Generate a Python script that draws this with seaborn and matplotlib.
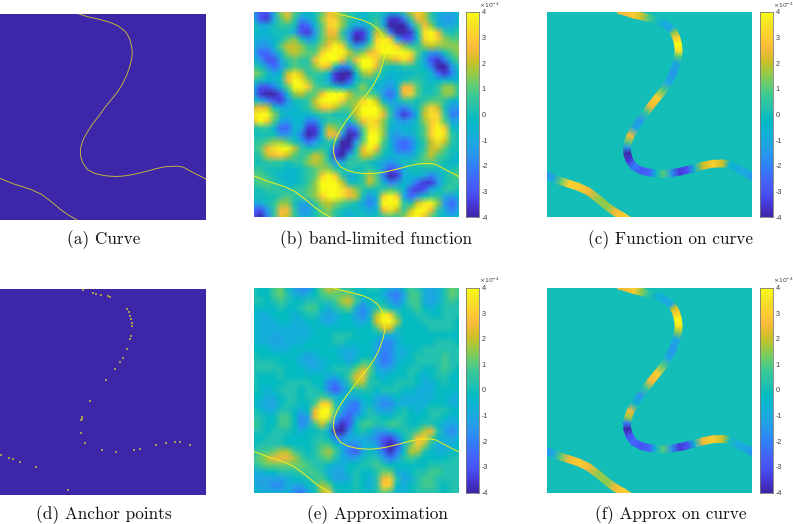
#\\Six panels: curve, band-limited function and its approximation
import numpy as np
import pandas as pd
import matplotlib
matplotlib.use('Agg')
import matplotlib.pyplot as plt
from matplotlib.colors import LinearSegmentedColormap
import seaborn as sns

#\\Curve, in zoomed pixels of that panel (0-618 wide, 40-660 tall)
main_x = [215, 238, 262, 285, 305, 330, 355, 375, 383, 390, 395, 397, 395, 390, 380, 365, 350, 332, 312, 298, 280, 264,
          251, 244, 241, 242, 248, 262, 285, 310, 328, 352, 375, 400, 425, 445, 470, 500, 530, 550, 575, 597, 618, 640]
main_y = [34, 40, 48, 53, 58, 65, 76, 92, 103, 118, 138, 158, 175, 195, 225, 255, 278, 300, 325, 345, 368, 392,
          415, 435, 450, 468, 488, 508, 520, 526, 528, 529, 527, 523, 517, 512, 505, 499, 498, 501, 515, 526, 537, 549]
lower_x = [-20, 0, 20, 40, 65, 95, 125, 155, 185, 205, 228, 250]
lower_y = [527, 535, 543, 551, 559, 569, 583, 606, 631, 645, 658, 672]

#\\Function values along the curve, x 1e-4
main_c = [2.5, 2.5, 3, 2, 1, 0, -1, -1, 1.5, 3, 4, 3.5, 1, -1, -1.5, -1, 1, 3, 2.5, 0.5, -1.5, -1,
          2.5, 1, -1.5, -4, -3.5, -2, -3, -2.5, -0.5, 1, -1.5, -3.5, -3, -0.5, 2, 3, 2, -0.5, -1, -1, -1.5, -1.5]
lower_c = [-1.5, -1.5, -1, 1, 3, 3, 2.5, 1.5, 1.5, 2.5, 3, 3]
main_f = [2.5, 2.5, 3, 1.5, 0.5, -0.5, -1, -1, 2, 3, 4, 3.5, 1.5, -1, -1.5, -1, 1, 3, 2.5, 0.5, -1.5, -0.5,
          2.5, 1.5, -2, -4, -3, -2.5, -3, -2.5, -0.5, 1, -1.5, -3.5, -3, -0.5, 2.5, 3, 2, 0, -1, -1, -1.5, -1.5]
lower_f = [-1.5, -1.5, -1, 1, 2.5, 3, 2.5, 1.5, 1.5, 2.5, 3, 3]

#\\Anchor points, in zoomed pixels (0-618 wide, 28-645 tall)
anchor_x = [248, 279, 288, 302, 323, 331, 381, 386, 390, 393, 396, 396, 393, 391, 381, 369, 360, 345, 319, 270,
            246, 245, 243, 242, 256, 307, 347, 401, 420, 468, 499, 526, 540, 569, 4, 27, 39, 59, 107, 204]
anchor_y = [31, 41, 42, 46, 50, 53, 89, 98, 108, 118, 130, 138, 170, 178, 207, 234, 248, 267, 301, 364,
            412, 417, 421, 458, 489, 510, 515, 510, 508, 496, 489, 487, 487, 496, 524, 534, 537, 545, 561, 630]

#\\Band-limited function on a 31 x 31 grid, x 1e-4
band_grid = [
    [-1.5, -3, -3, -1, 1.5, 2.5, 1, 0, -0.5, 0, 1, 2.5, 2, 1, 0.5, 0, -0.5, 0, 0, 0, -0.5, -0.5, 0.5, 2, 3, 2, 0.5, -0.5, -1, -1, -0.5],
    [-1, -3, -3.5, -1, 1, 2, 0.5, -1.5, -1, 0, 1.5, 3, 3, 1.5, 0.5, 0, -0.5, 0, 0.5, -1, -3.5, -3.5, -2, 0.5, 2.5, 2, 0.5, -1, -1.5, -1.5, -0.5],
    [0, -1, -1, 0, 0.5, 0.5, 0, -3, -2.5, -0.5, 1, 3, 3.5, 1.5, 0, -1, -1, 0, 1, -1, -4, -4.5, -4, -1.5, 1, 2.5, 1.5, -0.5, -1, -1, 0],
    [0, -0.5, -0.5, 0, 0, 0, -1, -3, -3.5, -1.5, 1, 2.5, 2.5, 0.5, -1.5, -3.5, -3.5, -1, 2, 1.5, -2, -4.5, -4.5, -3.5, 0, 3.5, 4, 2.5, 0.5, 0, 0.5],
    [-0.5, -1, -1, -0.5, 0, 1, 1.5, 0, -1.5, -0.5, 1, 2, 2, 1, -1.5, -4, -3.5, -0.5, 3, 4.5, 3, -1, -3, -3, -0.5, 3, 4, 3, 1.5, 1, 1],
    [-1, -1.5, -1.5, -0.5, 1, 2, 2, 1.5, 0.5, 0.5, 1.5, 2.5, 4, 3, 0.5, -1.5, -1, 1, 3.5, 5, 5, 3, 1.5, 0.5, 0.5, 1.5, 2, 1.5, 1.5, 1.5, 1.5],
    [-1, -2.5, -2.5, -1.5, 0, 1.5, 2, 1.5, 1, 1, 3, 4.5, 5, 4, 2, 1, 1.5, 2.5, 3, 4, 4.5, 4, 4.5, 3.5, 1, -0.5, -1.5, -1.5, 0, 1, 1.5],
    [-0.5, -1.5, -3, -3, -1, 0.5, 1, 0.5, 0.5, 2.5, 5, 5, 4, 2.5, 1, 2.5, 4.5, 5, 3, 1.5, 2, 2.5, 3.5, 2.5, 0.5, -1, -3, -3.5, -2, 0, 1],
    [0.5, 0, -1.5, -2.5, -1.5, 0, 1, 0.5, 0.5, 1.5, 3, 2.5, 0, -2, -1.5, 1, 4, 4.5, 2.5, 0.5, 0, 0, 0.5, 0.5, 0, -0.5, -2, -4, -4, -1.5, 0],
    [1.5, 1, 0, -1, -0.5, 2, 3.5, 2, 0.5, 0.5, 0.5, -0.5, -3.5, -4.5, -4, -0.5, 1.5, 2, 1, 0, -0.5, -0.5, -0.5, -0.5, 0, 0, -0.5, -2.5, -3.5, -2, -0.5],
    [0.5, 0, -0.5, -0.5, 0, 2.5, 4.5, 3.5, 1.5, 0.5, 0, -1, -3.5, -4, -3, -0.5, 0.5, 0.5, 0, -0.5, -1, -0.5, 0, 0.5, 0.5, 0, -0.5, -0.5, -0.5, -0.5, -0.5],
    [-1, -3, -3, -2, -0.5, 1, 4, 5, 3, 1, 0.5, 0.5, 0, -1, -0.5, 0.5, 1.5, 0.5, -0.5, -1, -1.5, -0.5, 2.5, 2.5, 1, 0, 0, 0.5, 1.5, 1.5, 0.5],
    [-1.5, -3.5, -4, -4, -3, -0.5, 1.5, 2, 1, 1, 2.5, 4, 5, 4, 2, 1, 1, 1, 0.5, -1.5, -2.5, -1, 2.5, 3, 1, 0, 0, 0.5, 1.5, 1.5, 0.5],
    [0, -1, -2, -3, -3.5, -1.5, 0, 0, 0.5, 2, 4, 5, 4.5, 3, 1.5, 1.5, 3, 4, 2, -0.5, -1.5, -0.5, 0.5, 0.5, 0, 0.5, 1, 1, 0.5, -0.5, -0.5],
    [2, 2.5, 2, 0, -1, -1, -0.5, 0, 0.5, 1.5, 2.5, 3, 2, 1, 1, 2, 4.5, 5, 4.5, 1.5, 0, -1.5, -2, -1, 0, 1.5, 3, 2, 0, -1.5, -1.5],
    [3.5, 5, 4, 1.5, 0, -0.5, -0.5, -0.5, -0.5, 0, 0.5, 0.5, 0, 0, 0.5, 2, 4.5, 5, 4, 2.5, 0.5, -2, -3.5, -2.5, -0.5, 2, 3.5, 3, 0.5, -2, -2],
    [2.5, 4, 3, 1, -1, -1.5, -0.5, -0.5, -2, -2, -0.5, 0.5, 0.5, 0.5, -0.5, 1, 2.5, 3.5, 3, 1.5, 0, -1, -1.5, -1, 0, 1.5, 3, 3.5, 1, -1, -1],
    [0, 0.5, 0.5, -0.5, -2.5, -2.5, -0.5, -1, -3.5, -3.5, -1, 2, 1.5, 0.5, -3, -2, 1, 3.5, 3.5, 1.5, -0.5, -1, -0.5, -0.5, 0, 1, 3, 4.5, 3, 0, -0.5],
    [0, 0, 0, 0, -1.5, -1.5, -0.5, -2, -4, -3.5, -0.5, 2.5, 2.5, -1.5, -4.5, -3.5, 0.5, 4.5, 4.5, 1.5, -1, -1.5, -1, -1, 0, 1, 3, 5, 3.5, 0.5, 0],
    [0.5, 0.5, 1, 1.5, 1.5, 1, 0, -1, -2.5, -1.5, -0.5, 0.5, 0, -4, -4.5, -1.5, 1, 4.5, 4, 1, -0.5, -2, -2.5, -2, -0.5, 0.5, 2, 3.5, 2, 0.5, 0],
    [0.5, 1, 2.5, 3.5, 4.5, 4, 2, 0.5, 0, 0, 0.5, 0, -3, -4.5, -3.5, 0, 2.5, 4, 2.5, 0.5, -0.5, -2, -2.5, -2, -0.5, 0.5, 2, 2, 1, 0, 0],
    [0, 0.5, 2, 2.5, 3, 2, 1, 0.5, 1, 2, 1.5, 0, -3.5, -4, -1, 0.5, 2, 2, 1, 0, -0.5, -1, -1, -1, 0, 1, 2, 1, 0.5, 0, -0.5],
    [0, 0, 0.5, 0.5, 0.5, 0, 0.5, 0.5, 1.5, 2, 1.5, 0.5, -1.5, -1, 0.5, 0.5, 0.5, 0, -0.5, -1, -1.5, -1, 0, 0, 0.5, 1, 1, 0.5, 0, -0.5, -0.5],
    [0.5, 0.5, 0, 0, 0, -0.5, -0.5, 0, 0.5, 1, 1.5, 1.5, 0.5, 0, 0.5, 0, 0, 0.5, 0, -1.5, -3, -2.5, -1, 0, 0, 0, 0, 0, 0, 0, 0.5],
    [1, 1, 0.5, 0, -0.5, -0.5, -0.5, 0, 0.5, 1, 3, 4, 3, 0.5, -1, -0.5, 0.5, 2, 1, -2, -4, -3.5, -1, -0.5, -0.5, -1, -2, -1, 0, 0.5, 1],
    [0.5, 1, 1, 0.5, 0, -0.5, -0.5, 0, 0.5, 1.5, 4, 5, 4.5, 2, 0, 0, 0.5, 2, 1, -0.5, -2, -1.5, -0.5, -1, -2.5, -3.5, -3.5, -1.5, 0, 0.5, 0.5],
    [0, 0, 0.5, 0.5, 0.5, 0, 0.5, 0.5, 1, 1.5, 4, 5, 5, 3.5, 2.5, 1.5, 0.5, 0, 0, 0.5, 1, 0.5, -0.5, -3, -3.5, -3, -1, -0.5, 0.5, 0.5, 0],
    [0, 0, 0, 0, 0.5, 1, 0.5, 0.5, 1, 1.5, 3, 4.5, 4, 3.5, 2.5, 2, 0, -1.5, -0.5, 3, 4.5, 3, -1, -2.5, -1.5, 0, 0.5, 0.5, -1, -1.5, -0.5],
    [-1, -1, 0, 0.5, 1.5, 1.5, 0, -1, -1, 0.5, 1.5, 2, 1.5, 1, 0.5, 0, -1, -2, -1, 4, 5, 4.5, 0.5, 0, 2, 3.5, 4, 1.5, -1.5, -2.5, -1.5],
    [-2.5, -3, -1.5, 0.5, 2.5, 2.5, 0.5, -1.5, -1.5, 0, 1, 1.5, 0.5, 0, -0.5, 0, -0.5, -1, -0.5, 2.5, 3.5, 2, 0.5, 2, 4, 4.5, 2.5, 0.5, -1, -2, -1],
    [-3, -4, -2, 0.5, 2.5, 2, 0.5, -1, -1, 0, 1, 1, 0.5, -0.5, -1, -0.5, 0, -0.5, 0, 0.5, 1, 0.5, 1.5, 3.5, 4, 2.5, 1, 0, -0.5, -1, -0.5],
]

#\\Approximation on the same grid, x 1e-4
approx_grid = [
    [0.2, -0.2, -0.2, 0.8, 1.2, -0.2, -1.2, -1.8, -1.8, -0.2, 1.2, 2.2, 1.8, 0.2, 0.2, -0.2, -0.2, 0.2, 0.2, -0.2, -0.8, -1.2, -0.2, 0.8, 0.2, -0.8, -1.2, -0.8, 0.2, 1.2, 0.8],
    [0.2, -0.2, -0.2, 0.8, 1.2, 0.2, -0.8, -1.2, -0.8, -0.2, 0.8, 1.2, 1.2, 1.2, 1.2, 0.2, -0.2, -0.2, -0.2, -0.8, -1.8, -2.2, -1.2, 0.8, 0.8, -0.8, -1.2, -0.8, 0.2, 1.2, 0.8],
    [0.2, 0.2, -0.2, 0.2, 0.8, 0.2, -0.2, -0.2, 0.2, 0.2, 0.2, 0.2, 0.8, 1.8, 2.2, 0.8, -0.8, -0.2, 0.2, -0.2, -1.2, -1.8, -0.8, 0.8, 0.8, -0.8, -1.2, -0.8, 0.2, 0.8, 0.2],
    [-0.2, -0.2, -0.2, -0.2, 0.2, -0.2, -0.2, 0.2, 0.8, 0.8, -0.2, -0.8, 0.2, 0.8, 1.2, -0.8, -1.8, -0.8, 0.2, 0.8, -0.2, -0.8, -0.2, 0.2, 0.8, -0.2, -0.8, -0.2, 0.2, 0.2, 0.2],
    [-0.2, -0.8, -0.8, -0.2, -0.2, -0.2, -0.8, -0.2, 0.2, 0.2, -0.8, -1.2, -0.8, -0.2, -0.2, -1.2, -1.8, -0.8, 1.8, 4, 3.2, 0.8, -0.2, -0.2, 0.2, 0.2, -0.2, -0.2, 0.2, 0.2, 0.2],
    [-0.2, -0.8, -0.8, -0.8, -0.2, -0.2, -0.8, -0.8, -0.2, -0.2, -0.8, -1.2, -0.8, -0.2, -0.2, -0.8, -1.2, -0.2, 2.2, 5, 5, 1.8, -0.2, -0.2, -0.2, 0.2, 0.2, 0.2, 0.2, 0.2, -0.2],
    [-0.2, -0.8, -0.8, -0.8, -0.8, -0.8, -0.8, -0.8, -0.8, -0.2, -0.2, -0.2, -0.2, -0.2, -0.2, -0.2, -0.2, -0.2, 0.8, 2.2, 2.2, 0.2, -0.2, -0.2, -0.2, -0.2, 0.2, 0.2, 0.2, 0.2, -0.2],
    [-0.2, -0.8, -0.8, -1.2, -0.8, -0.8, -0.8, -0.8, -0.8, -0.2, -0.2, -0.2, 0.2, 0.2, 0.2, -0.2, -0.2, -0.2, -0.2, -0.8, -0.8, -0.8, -0.2, -0.2, -0.2, -0.2, -0.2, -0.2, -0.2, -0.2, -0.2],
    [-0.2, -0.8, -0.8, -1.2, -1.2, -0.8, -0.8, -0.8, -0.2, -0.2, -0.2, -0.2, 0.2, 0.2, -0.2, -0.2, -0.2, -0.2, -0.8, -1.8, -1.8, -0.8, -0.2, -0.2, -0.2, -0.2, -0.2, 0.2, 0.2, 0.2, -0.2],
    [-0.2, -0.2, -0.2, -0.8, -0.8, -0.8, -0.2, -0.2, -0.2, -0.2, -0.2, -0.2, -0.2, -0.8, -0.8, -0.8, -0.2, -0.2, -1.2, -1.8, -1.8, -0.8, -0.8, -0.2, -0.2, 0.2, 0.2, 0.2, 0.2, 0.2, 0.2],
    [0.2, -0.2, -0.2, -0.2, -0.2, -0.2, -0.2, -0.8, -1.2, -0.8, -0.2, -0.2, -0.2, -0.8, -1.2, -0.8, -0.2, -0.2, -1.2, -2.2, -1.8, -0.8, -0.8, -0.2, 0.2, 0.2, 0.2, 0.2, 0.8, 0.2, 0.2],
    [0.2, 0.2, 0.2, 0.2, -0.2, -0.2, -0.2, -0.8, -1.2, -1.2, -0.8, -0.2, -0.2, -0.2, -0.8, -0.2, 0.8, 0.8, -1.2, -2.2, -1.8, -0.8, -0.2, -0.2, 0.2, 0.2, 0.2, 0.2, 0.8, 0.2, 0.2],
    [0.2, 0.2, 0.2, 0.2, 0.2, -0.2, -0.2, -0.2, -0.8, -0.8, -0.8, -0.2, 0.2, 0.2, 0.2, 1.2, 2.2, 1.2, -0.8, -1.2, -1.2, -0.2, -0.2, 0.2, 0.2, -0.2, -0.2, 0.2, 0.8, 0.2, -0.2],
    [0.2, -0.2, -0.2, -0.2, 0.2, -0.2, -0.2, -0.2, -0.2, -0.2, -0.2, -0.8, -0.8, -0.2, 0.8, 2.2, 2.8, 0.8, -0.2, -0.8, -0.2, -0.2, -0.2, 0.2, -0.2, -0.8, -0.2, 0.2, 0.2, -0.2, -0.2],
    [0.2, -0.2, -0.2, -0.2, -0.2, 0.2, 0.2, 0.2, 0.2, -0.2, -0.2, -1.8, -2.2, -1.2, 0.2, 1.8, 1.8, 0.2, 0.2, -0.2, -0.2, 0.2, 0.2, 0.2, -0.2, -0.8, -0.8, -0.2, 0.2, -0.2, -0.2],
    [0.2, -0.2, -0.8, -0.2, 0.2, 0.2, 0.2, -0.2, 0.2, 0.2, -0.2, -1.8, -2.8, -1.8, -0.2, 0.2, 0.2, 0.2, -0.2, 0.2, 0.2, 0.2, -0.2, -0.2, -0.8, -0.8, -0.8, -0.2, -0.2, -0.2, -0.2],
    [-0.2, -0.2, -0.8, -0.8, -0.2, 0.2, 0.2, -0.2, 0.2, 0.2, 0.8, 0.2, -0.8, -0.2, -0.8, -0.8, -0.2, -0.2, -0.8, -1.2, -0.8, -0.2, -0.8, -0.8, -0.8, -0.8, -0.8, -0.2, -0.2, -0.8, -0.8],
    [-0.2, -0.8, -1.2, -1.2, -0.2, 0.2, 0.2, -0.2, -0.2, 0.8, 3, 3, 0.2, -0.8, -1.8, -2.2, -0.8, -0.2, -1.2, -1.8, -1.8, -0.8, -0.8, -0.8, -0.8, -0.8, -0.2, -0.2, -0.2, -0.8, -0.8],
    [0.2, -0.2, -0.8, -0.8, 0.2, 0.2, -0.2, -0.8, -0.2, 2.5, 5, 4.5, 0.8, -1.2, -2.2, -2.2, -0.8, 0.2, -0.8, -1.2, -1.2, -0.2, 0.2, -0.2, -0.8, -0.2, 0.2, 0.2, 0.2, -0.2, -0.2],
    [0.2, 0.2, -0.2, -0.2, 0.8, 0.8, -0.2, -1.8, -1.2, 2.5, 5, 3.5, -0.8, -2.2, -2.8, -1.2, -0.2, 0.2, 0.2, -0.2, -0.2, 0.2, 0.2, -0.2, -0.2, -0.2, 0.2, 0.2, -0.2, -0.8, -0.2],
    [0.8, 0.2, -0.2, -0.2, 0.8, 0.8, -0.2, -1.8, -1.2, 0.8, 2.2, 0.8, -2.2, -3.8, -2.8, -0.2, 0.8, 0.8, 0.2, 0.2, 0.8, 0.8, 0.2, -0.2, -0.2, 0.2, 0.2, -0.2, -0.8, -1.2, -0.8],
    [0.2, 0.2, -0.2, 0.2, 0.2, 0.2, -0.2, -0.8, -0.2, -0.2, 0.2, -0.8, -3.8, -4.2, -1.8, -0.2, 0.2, -0.2, -1.2, -1.2, -0.8, -0.2, 0.2, 0.2, 0.8, 1.8, 2.5, 0.2, -1.2, -1.8, -1.2],
    [-0.2, -0.2, 0.2, 0.2, 0.2, -0.2, -0.2, -0.2, -0.2, 0.2, 0.2, -0.2, -2.2, -1.8, -0.8, -0.8, -0.8, -1.2, -1.8, -2.8, -3.2, -1.8, -0.2, 0.8, 2.5, 3, 1.2, -0.2, -0.8, -1.2, -0.8],
    [-0.2, 0.2, 0.2, 0.2, 0.2, -0.2, -0.2, -0.2, -0.2, 0.2, 0.8, 0.8, -0.2, -1.2, -1.8, -1.8, -0.8, -0.8, -1.2, -3.2, -4.5, -3.2, -0.8, 1.2, 3, 1.8, 0.2, -0.8, -0.8, -0.8, -0.2],
    [0.2, 0.8, 0.8, 1.2, 1.8, 1.8, 0.8, 0.2, -0.2, 0.2, 1.2, 1.8, 0.8, -0.8, -2.2, -2.8, -1.2, -0.2, -0.8, -2.2, -3.8, -2.2, -0.2, 1.8, 1.8, 0.2, -0.2, -0.8, -0.8, -0.2, -0.2],
    [0.8, 1.2, 1.8, 2.5, 2.5, 2.5, 1.8, 0.8, 0.2, 0.2, 0.8, 1.2, 0.2, -0.8, -1.2, -1.2, -0.2, 0.2, 0.2, -1.2, -2.2, -1.2, 0.2, 0.8, 0.2, -0.2, -0.2, -0.2, -0.2, 0.2, 0.2],
    [0.2, 0.8, 1.2, 1.2, 1.2, 1.2, 1.2, 1.2, 0.8, 0.2, 0.2, -0.2, -0.8, -0.8, -0.2, -0.2, 0.2, 0.2, 0.8, 0.2, -0.2, -0.2, -0.2, -0.2, -0.2, -0.2, 0.2, 0.2, 0.2, 0.2, 0.2],
    [-0.8, -0.8, -0.2, -0.2, 0.2, 0.2, 0.2, 0.8, 0.8, 0.8, 0.2, -0.8, -1.2, -1.2, -0.2, 0.2, -0.2, -0.2, 0.2, 1.2, 1.2, -0.8, -0.8, -0.2, 0.2, 0.2, 0.8, 0.8, 0.2, 0.2, 0.2],
    [-1.2, -1.2, -1.2, -1.2, -1.2, -0.8, -0.2, -0.2, 0.2, 0.8, 0.8, -0.2, -1.2, -1.2, -0.8, 0.2, -0.2, -0.8, 0.2, 2.5, 3, 0.2, -1.2, -0.8, 0.2, 0.8, 0.8, 0.2, 0.2, 0.2, 0.2],
    [-0.8, -1.2, -1.2, -1.8, -1.8, -0.8, -1.2, -1.2, -0.2, 0.2, 1.8, 1.2, -0.2, -0.2, -0.2, 0.2, -0.2, -0.8, 0.2, 3, 3, -0.2, -0.8, -0.2, 0.2, 0.8, 0.8, 0.2, -0.2, 0.2, 0.2],
    [-0.2, -0.8, -0.8, -0.8, -0.8, -0.8, -1.8, -2.2, -1.2, -0.2, 1.8, 2.5, 0.2, -0.2, -0.2, 0.2, -0.2, -0.2, 0.2, 1.2, 0.8, -0.8, -0.8, -0.2, 0.2, 0.2, 0.2, 0.2, -0.2, 0.2, 0.2],
]

cbar_ticks = [-4, -3, -2, -1, 0, 1, 2, 3, 4]
captions = ['(a) Curve', '(b) band-limited function', '(c) Function on curve',
            '(d) Anchor points', '(e) Approximation', '(f) Approx on curve']

parula = LinearSegmentedColormap.from_list('parula', [
    (0.2422, 0.1504, 0.6603), (0.2706, 0.2147, 0.8364), (0.2810, 0.3228, 0.9579), (0.2699, 0.3892, 0.9906),
    (0.1963, 0.4847, 0.9892), (0.1687, 0.5703, 0.9359), (0.1248, 0.6459, 0.8883), (0.0689, 0.6948, 0.8394),
    (0.0067, 0.7312, 0.7660), (0.1408, 0.7584, 0.6842), (0.2161, 0.7843, 0.5923), (0.3909, 0.8029, 0.4354),
    (0.6174, 0.7876, 0.2612), (0.8203, 0.7498, 0.1535), (0.9728, 0.7298, 0.2394), (0.9892, 0.8086, 0.1885),
    (0.9610, 0.8890, 0.1537), (0.9769, 0.9839, 0.0805)])

W, H = 793, 524
GRID = 30
for row in band_grid + approx_grid:
    assert len(row) == GRID + 1, row

sns.set_theme(style='white')
plt.rcParams['font.family'] = ['Liberation Sans', 'DejaVu Sans']
fig = plt.figure(figsize=(W / 100, H / 100), dpi=100)


def pixel_axes(left, top, width, height):
    return fig.add_axes([left / W, 1 - (top + height) / H, width / W, height / H])


def curve_units(xs, ys):
    return np.array(xs) / 618 * GRID, (np.array(ys) - 40) / 620 * GRID


def set_limits(ax):
    ax.set_xlim(0, GRID)
    ax.set_ylim(GRID, 0)
    ax.set(xlabel='', ylabel='')


def style_cbar(cax):
    cax.set_yticks(cbar_ticks, [str(t) for t in cbar_ticks])
    cax.tick_params(axis='y', length=1.5, width=0.4, direction='in', pad=2, labelsize=5.2,
                    labelcolor='#404040', color='#555555', right=True, left=True)
    for s in cax.spines.values():
        s.set_visible(True)
        s.set_linewidth(0.4)
        s.set_color('#777777')
    cax.text(1.0, 1.012, r'$\times 10^{-4}$', transform=cax.transAxes, fontsize=4.4, color='#404040',
             ha='left', va='bottom', math_fontfamily='dejavusans')


def field_panel(left, top, grid, colorbar_left):
    ax = pixel_axes(left, top, 205, 205)
    cax = pixel_axes(colorbar_left, top, 13, 205)
    sns.heatmap(pd.DataFrame(grid), cmap=parula, vmin=-4, vmax=4, ax=ax, cbar_ax=cax,
                xticklabels=False, yticklabels=False, shading='gouraud', rasterized=True)
    set_limits(ax)
    style_cbar(cax)
    return ax


def blank_panel(left, top):
    ax = pixel_axes(left, top, 206, 206)
    sns.heatmap(pd.DataFrame(np.zeros((2, 2))), cmap=parula, vmin=0, vmax=1, cbar=False, ax=ax,
                xticklabels=False, yticklabels=False)
    ax.collections[0].set_transform(ax.transAxes)
    return ax


def draw_thin(ax, color, lw):
    for xs, ys in [(main_x, main_y), (lower_x, lower_y)]:
        x, y = curve_units(xs, ys)
        sns.lineplot(x=x, y=y, sort=False, estimator=None, color=color, linewidth=lw, ax=ax)
    set_limits(ax)


def draw_band(ax, xs, ys, vals, half):
    x, y = curve_units(xs, ys)
    dx, dy = np.gradient(x), np.gradient(y)
    norm = np.hypot(dx, dy)
    nx, ny = -dy / norm * half, dx / norm * half
    X = np.column_stack([x - nx, x + nx])
    Y = np.column_stack([y - ny, y + ny])
    C = np.column_stack([vals, vals])
    ax.pcolormesh(X, Y, C, shading='gouraud', cmap=parula, vmin=-4, vmax=4, rasterized=True)


def band_panel(left, top, colorbar_left, vals_main, vals_lower):
    ax = field_panel(left, top, np.zeros((2, 2)), colorbar_left)
    # the flat background fills the panel, the band uses the 0-30 scale
    ax.collections[0].set_transform(ax.transAxes)
    draw_band(ax, main_x, main_y, vals_main, 0.5)
    draw_band(ax, lower_x, lower_y, vals_lower, 0.5)
    set_limits(ax)


#\\(a) curve on a flat background
ax_a = blank_panel(0, 14)
draw_thin(ax_a, '#c9bb3c', 0.65)

#\\(d) anchor points
ax_d = blank_panel(0, 289)
sns.scatterplot(x=np.array(anchor_x) / 618 * GRID, y=(np.array(anchor_y) - 28) / 617 * GRID, marker='s', s=0.6,
                color='#a89a50', linewidth=0, ax=ax_d)
set_limits(ax_d)

#\\(b) and (e) smooth fields with the curve on top
ax_b = field_panel(253.5, 12, band_grid, 466)
draw_thin(ax_b, '#f2ef1e', 0.7)
ax_e = field_panel(253.5, 287.5, approx_grid, 466)
draw_thin(ax_e, '#f2ef1e', 0.7)

#\\(c) and (f) function only on the curve
band_panel(547, 12, 760, main_c, lower_c)
band_panel(547, 287.5, 760, main_f, lower_f)

#\\Captions in the LaTeX roman look
caption_pos = [(104, 240), (376, 240), (671, 240), (104, 515), (377, 515), (671, 515)]
for text, (cx, cy) in zip(captions, caption_pos):
    fig.text(cx / W, 1 - cy / H, text, family='cmr10', fontsize=12.4, color='#111111', ha='center', va='center')

plt.savefig('out.png', dpi=100)
